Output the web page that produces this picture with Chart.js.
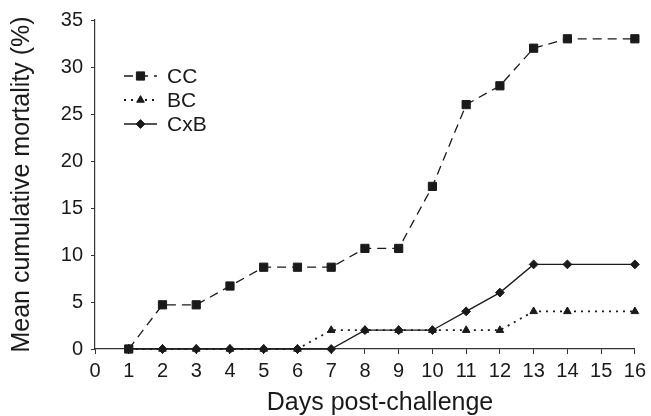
<!DOCTYPE html>
<html>
<head>
<meta charset="utf-8">
<script src="https://cdn.jsdelivr.net/npm/chart.js@4"></script>
<style>
    body { margin: 0; background: #fff; }
    #wrap { width: 651px; height: 416px; }
</style>
</head>
<body>
<div id="wrap"><canvas id="mortality" width="651" height="416"></canvas></div>
<script>
// days that have a marker (no reading on day 15)
const days = [1, 2, 3, 4, 5, 6, 7, 8, 9, 10, 11, 12, 13, 14, 16];
const ccValues = [0, 4.7, 4.7, 6.7, 8.7, 8.7, 8.7, 10.7, 10.7, 17.3, 26, 28, 32, 33, 33];
const bcValues = [0, 0, 0, 0, 0, 0, 2, 2, 2, 2, 2, 2, 4, 4, 4];
const cxbValues = [0, 0, 0, 0, 0, 0, 0, 2, 2, 2, 4, 6, 9, 9, 9];
const seriesNames = ["CC", "BC", "CxB"];
const xTitle = "Days post-challenge";
const yTitle = "Mean cumulative mortality (%)";

const ink = "#1a1a1a";
const fontFamily = "'Liberation Sans', Arial, sans-serif";

function toPoints(values){
    let points = [];
    for(let i = 0; i < days.length; i++){
        points.push({x: days[i], y: values[i]});
    }
    return points;
}

// legend: short line with the marker in the middle, then the name
// the x title is drawn here too, it sits a bit right of the plot centre
const lineLegend = {
    id: "lineLegend",
    afterDraw(chart){
        const ctx = chart.ctx;
        const x0 = 124, x1 = 157, textX = 167;
        const rows = [76, 100, 124];
        chart.data.datasets.forEach((ds, i) => {
            const y = rows[i];
            ctx.save();
            ctx.strokeStyle = ds.borderColor;
            ctx.lineWidth = ds.borderWidth;
            ctx.setLineDash(ds.borderDash || []);
            ctx.beginPath();
            ctx.moveTo(x0, y);
            ctx.lineTo(x1, y);
            ctx.stroke();
            ctx.restore();
            ctx.save();
            ctx.fillStyle = ink;
            ctx.strokeStyle = ink;
            Chart.helpers.drawPoint(ctx, {
                pointStyle: ds.pointStyle,
                radius: ds.pointRadius,
                borderWidth: 1,
            }, (x0 + x1) / 2, y);
            ctx.font = "21px " + fontFamily;
            ctx.textBaseline = "middle";
            ctx.fillText(ds.label, textX, y + 1);
            ctx.restore();
        });
        ctx.save();
        ctx.fillStyle = ink;
        ctx.font = "25px " + fontFamily;
        ctx.textAlign = "center";
        ctx.textBaseline = "alphabetic";
        ctx.fillText(xTitle, 380, 410);
        ctx.restore();
    }
};

const markerDefaults = {
    pointBackgroundColor: ink,
    pointBorderColor: ink,
    pointBorderWidth: 1,
    borderColor: ink,
    backgroundColor: ink,
    fill: false,
    tension: 0,
    clip: false,
};

const chartOptions = {
    type: "line",
    data: {
        datasets: [
            Object.assign({
                label: seriesNames[0],
                data: toPoints(ccValues),
                borderDash: [9, 6],
                borderWidth: 1.3,
                pointStyle: "rect",
                pointRadius: 5.8,
            }, markerDefaults),
            Object.assign({
                label: seriesNames[1],
                data: toPoints(bcValues),
                borderDash: [2, 5],
                borderWidth: 1.8,
                pointStyle: "triangle",
                pointRadius: 4.4,
            }, markerDefaults),
            Object.assign({
                label: seriesNames[2],
                data: toPoints(cxbValues),
                borderWidth: 1.3,
                pointStyle: "rectRot",
                pointRadius: 4.4,
            }, markerDefaults),
        ],
    },
    options: {
        responsive: false,
        animation: false,
        layout: {
            padding: {top: 17, right: 13, left: 0, bottom: 0},
        },
        plugins: {
            legend: {display: false},
            tooltip: {enabled: false},
        },
        scales: {
            x: {
                type: "linear",
                min: 0,
                max: 16,
                afterFit(scale){ scale.height = 67; },
                ticks: {
                    stepSize: 1,
                    color: ink,
                    padding: 5,
                    maxRotation: 0,
                    font: {family: fontFamily, size: 20},
                },
                grid: {
                    drawOnChartArea: false,
                    drawTicks: true,
                    tickLength: 5,
                    color: "#333",
                },
                border: {display: true, color: "#333", width: 1.2},
            },
            y: {
                min: 0,
                max: 35,
                afterFit(scale){ scale.width = 95; },
                ticks: {
                    stepSize: 5,
                    color: ink,
                    padding: 8,
                    font: {family: fontFamily, size: 20},
                },
                grid: {
                    drawOnChartArea: false,
                    drawTicks: true,
                    tickLength: 4,
                    color: "#333",
                },
                border: {display: true, color: "#333", width: 1.2},
                title: {
                    display: true,
                    text: yTitle,
                    color: ink,
                    padding: 7,
                    font: {family: fontFamily, size: 25},
                },
            },
        },
    },
    plugins: [lineLegend],
};

new Chart("mortality", chartOptions);
</script>
</body>
</html>
